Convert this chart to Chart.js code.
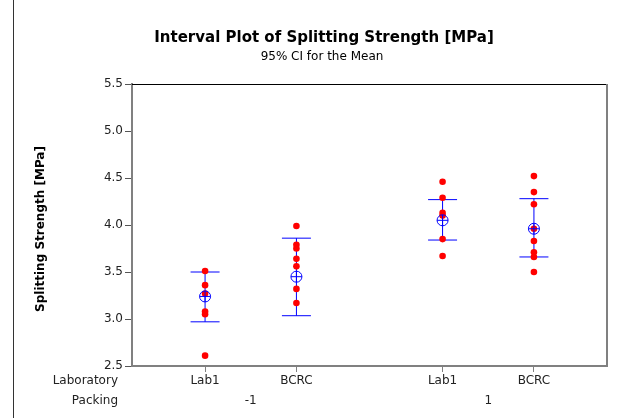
<!DOCTYPE html>
<html>
<head>
<meta charset="utf-8">
<script src="https://cdn.jsdelivr.net/npm/chart.js@4"></script>
<style>
  html, body { margin: 0; padding: 0; background: #ffffff; }
  #wrap { width: 635px; height: 418px; position: relative; }
</style>
</head>
<body>
<div id="wrap"><canvas id="intervalChart"></canvas></div>
<script>
// categories along the x axis (Laboratory within Packing)
const categories = ['Lab1', 'BCRC', 'Lab1', 'BCRC'];
const packingLevels = ['-1', '1'];
const xPositions = [1, 2, 3.6, 4.6];

const obsLab1Neg = [3.51, 3.36, 3.27, 3.08, 3.05, 2.61];
const obsBcrcNeg = [3.99, 3.79, 3.75, 3.64, 3.56, 3.32, 3.17];
const obsLab1Pos = [4.46, 4.29, 4.13, 4.10, 3.85, 3.67];
const obsBcrcPos = [4.52, 4.35, 4.22, 3.96, 3.83, 3.71, 3.66, 3.50];

// mean and 95% CI
const meanValues = [3.24, 3.45, 4.05, 3.96];
const ciLower = [2.97, 3.035, 3.84, 3.66];
const ciUpper = [3.50, 3.86, 4.27, 4.28];

const yTicks = [2.5, 3.0, 3.5, 4.0, 4.5, 5.0, 5.5];

const FONT = "'DejaVu Sans', sans-serif";
const BLUE = '#0000ff';
const RED = '#ff0000';

document.addEventListener('DOMContentLoaded', function () {
  createChart();
});

function createChart() {
  const ctx = document.getElementById('intervalChart');
  const groups = [obsLab1Neg, obsBcrcNeg, obsLab1Pos, obsBcrcPos];

  const datasets = [];

  // vertical CI lines, one per group
  xPositions.forEach(function (x, i) {
    datasets.push({
      type: 'scatter',
      data: [{ x: x, y: ciLower[i] }, { x: x, y: ciUpper[i] }],
      showLine: true,
      borderColor: BLUE,
      borderWidth: 1,
      pointRadius: 0,
      order: 3
    });
  });

  // caps
  datasets.push({
    type: 'scatter',
    data: xPositions.flatMap(function (x, i) {
      return [{ x: x, y: ciLower[i] }, { x: x, y: ciUpper[i] }];
    }),
    pointStyle: 'line',
    pointRadius: 14.5,
    pointBorderColor: BLUE,
    pointBorderWidth: 1,
    order: 2
  });

  // observations
  datasets.push({
    type: 'scatter',
    data: groups.flatMap(function (vals, i) {
      return vals.map(function (v) { return { x: xPositions[i], y: v }; });
    }),
    pointStyle: 'circle',
    pointRadius: 3.3,
    pointBackgroundColor: RED,
    pointBorderWidth: 0,
    order: 1
  });

  // mean symbol: circle + cross
  const meanPts = xPositions.map(function (x, i) { return { x: x, y: meanValues[i] }; });
  datasets.push({
    type: 'scatter',
    data: meanPts,
    pointStyle: 'circle',
    pointRadius: 5.5,
    pointBackgroundColor: 'rgba(0,0,0,0)',
    pointBorderColor: BLUE,
    pointBorderWidth: 1,
    order: 0
  });
  datasets.push({
    type: 'scatter',
    data: meanPts,
    pointStyle: 'cross',
    pointRadius: 5.5,
    pointBorderColor: BLUE,
    pointBorderWidth: 1,
    order: 0
  });

  const decorations = {
    id: 'decorations',
    afterDraw: function (chart) {
      const c = chart.ctx;
      const area = chart.chartArea;
      const xs = chart.scales.x;
      c.save();
      // frame: top and right edges
      c.strokeStyle = '#000000';
      c.lineWidth = 1;
      c.beginPath();
      c.moveTo(area.left, area.top + 0.5);
      c.lineTo(area.right, area.top + 0.5);
      c.stroke();
      c.strokeStyle = '#808080';
      c.lineWidth = 2;
      c.beginPath();
      c.moveTo(area.right, area.top);
      c.lineTo(area.right, area.bottom);
      c.stroke();

      // outer left line
      c.strokeStyle = '#333333';
      c.lineWidth = 1;
      c.beginPath();
      c.moveTo(13.5, 0);
      c.lineTo(13.5, 418);
      c.stroke();

      // titles
      c.fillStyle = '#000000';
      c.textAlign = 'center';
      c.textBaseline = 'middle';
      c.font = 'bold 15px ' + FONT;
      c.fillText('Interval Plot of Splitting Strength [MPa]', 324, 38);
      c.font = '12px ' + FONT;
      c.fillText('95% CI for the Mean', 322, 57);

      // y axis title
      c.save();
      c.translate(41, 229);
      c.rotate(-Math.PI / 2);
      c.font = 'bold 12px ' + FONT;
      c.fillText('Splitting Strength [MPa]', 0, 0);
      c.restore();

      // row labels
      c.fillStyle = '#222222';
      c.font = '12px ' + FONT;
      c.textAlign = 'right';
      c.fillText('Laboratory', 118, 381);
      c.fillText('Packing', 118, 401);

      // packing level labels centred under each pair
      c.textAlign = 'center';
      packingLevels.forEach(function (lvl, g) {
        const mid = (xs.getPixelForValue(xPositions[g * 2]) + xs.getPixelForValue(xPositions[g * 2 + 1])) / 2;
        c.fillText(lvl, mid, 401);
      });
      c.restore();
    }
  };

  new Chart(ctx, {
    data: { datasets: datasets },
    options: {
      responsive: true,
      maintainAspectRatio: false,
      animation: false,
      layout: { padding: { top: 84, right: 28, left: 0, bottom: 0 } },
      plugins: {
        legend: { display: false },
        tooltip: { enabled: false }
      },
      scales: {
        x: {
          type: 'linear',
          min: 0.2,
          max: 5.4,
          afterBuildTicks: function (scale) {
            scale.ticks = xPositions.map(function (v) { return { value: v }; });
          },
          afterFit: function (scale) { scale.height = 52; },
          ticks: {
            autoSkip: false,
            maxRotation: 0,
            padding: 2,
            color: '#222222',
            font: { family: FONT, size: 12 },
            callback: function (val, idx) { return categories[idx]; }
          },
          grid: { drawOnChartArea: false, tickLength: 6, color: '#808080', tickWidth: 1 },
          border: { color: '#808080', width: 2 }
        },
        y: {
          min: 2.5,
          max: 5.5,
          afterBuildTicks: function (scale) {
            scale.ticks = yTicks.map(function (v) { return { value: v }; });
          },
          afterFit: function (scale) { scale.width = 132; },
          ticks: {
            padding: 2,
            color: '#222222',
            font: { family: FONT, size: 12 },
            callback: function (val) { return Number(val).toFixed(1); }
          },
          grid: { drawOnChartArea: false, tickLength: 7, color: '#555555', tickWidth: 1 },
          border: { color: '#808080', width: 2 }
        }
      }
    },
    plugins: [decorations]
  });
}
</script>
</body>
</html>
